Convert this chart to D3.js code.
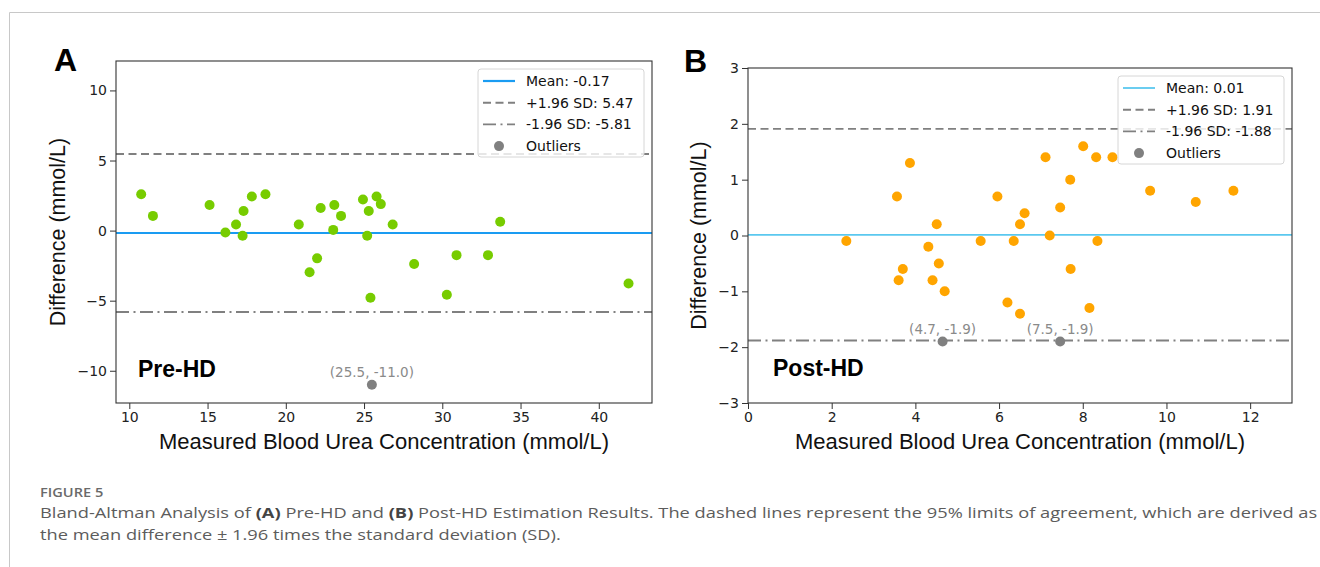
<!DOCTYPE html>
<html>
<head>
<meta charset="utf-8">
<script src="https://cdn.jsdelivr.net/npm/d3@7"></script>
<style>
  body { margin: 0; background: #fff; }
  svg { display: block; }
</style>
</head>
<body>
<script>
const width = 1320;
const height = 567;

// Panel A: pre-HD measurements vs difference
const preX = [10.76, 11.51, 15.13, 16.14, 16.82, 17.24, 17.30, 17.83, 18.70, 20.83,
              22.23, 23.10, 23.03, 23.53, 24.93, 25.80, 25.30, 26.07, 25.20, 26.83,
              33.70, 21.52, 22.00, 28.20, 30.91, 32.92, 25.41, 30.29, 41.90];
const preDiff = [2.59, 1.05, 1.82, -0.14, 0.44, -0.37, 1.40, 2.43, 2.59, 0.44,
                 1.61, 1.82, 0.05, 1.05, 2.22, 2.43, 1.40, 1.89, -0.37, 0.44,
                 0.63, -2.97, -1.98, -2.38, -1.75, -1.75, -4.79, -4.58, -3.77];
const preOutX = [25.5];
const preOutDiff = [-11.0];
const preOutLabels = ["(25.5, -11.0)"];
const preStats = [-0.17, 5.47, -5.81];   // mean, +1.96 SD, -1.96 SD

// Panel B: post-HD
const postX = [3.56, 3.87, 4.51, 5.96, 6.50, 6.61, 7.11, 7.21, 7.46, 7.70,
               8.01, 8.32, 8.71, 9.61, 10.70, 11.60, 2.35, 3.70, 3.60, 4.31,
               4.56, 4.41, 4.70, 5.56, 6.35, 6.20, 6.50, 7.71, 8.35, 8.16];
const postDiff = [0.70, 1.30, 0.20, 0.70, 0.20, 0.40, 1.40, 0.00, 0.50, 1.00,
                  1.60, 1.40, 1.40, 0.80, 0.60, 0.80, -0.10, -0.60, -0.80, -0.20,
                  -0.50, -0.80, -1.00, -0.10, -0.10, -1.20, -1.40, -0.60, -0.10, -1.30];
const postOutX = [4.65, 7.46];
const postOutDiff = [-1.9, -1.9];
const postOutLabels = ["(4.7, -1.9)", "(7.5, -1.9)"];
const postStats = [0.01, 1.91, -1.88];

const preTicksX = [10, 15, 20, 25, 30, 35, 40];
const preTicksY = [-10, -5, 0, 5, 10];
const postTicksX = [0, 2, 4, 6, 8, 10, 12];
const postTicksY = [-3, -2, -1, 0, 1, 2, 3];

const legendNames = ["Mean", "+1.96 SD", "-1.96 SD", "Outliers"];

const svg = d3.select("body").append("svg")
  .attr("width", width)
  .attr("height", height);

// page frame
svg.append("path")
  .attr("d", "M9.5," + height + "V12.5H" + width)
  .attr("fill", "none")
  .attr("stroke", "#c8c8c8");

const panels = [
  {letter: "A", tag: "Pre-HD", xs: preX, ys: preDiff, ox: preOutX, oy: preOutDiff, ol: preOutLabels,
   stats: preStats, xt: preTicksX, yt: preTicksY, xDomain: [9.15, 43.4], yDomain: [-12.3, 12.1],
   left: 116, right: 652, top: 61, bottom: 403, color: "#77cc00", meanColor: "#1a9cf2", meanWidth: 2.2,
   letterX: 54, letterY: 71, ylabX: 65, tagX: 138, tagY: 377},
  {letter: "B", tag: "Post-HD", xs: postX, ys: postDiff, ox: postOutX, oy: postOutDiff, ol: postOutLabels,
   stats: postStats, xt: postTicksX, yt: postTicksY, xDomain: [0, 13], yDomain: [-3, 3],
   left: 748, right: 1292, top: 68, bottom: 403, color: "#ffa500", meanColor: "#5bc8ef", meanWidth: 1.8,
   letterX: 684, letterY: 72, ylabX: 706, tagX: 773, tagY: 376}
];

const styles = [
  {dash: null},
  {dash: "8,4.5"},
  {dash: "13,4.5,2,4.5"}
];

panels.forEach(function(p, i) {
  const x = d3.scaleLinear().domain(p.xDomain).range([p.left, p.right]);
  const y = d3.scaleLinear().domain(p.yDomain).range([p.bottom, p.top]);
  const g = svg.append("g");

  g.append("clipPath").attr("id", "clip" + i)
    .append("rect")
    .attr("x", p.left).attr("y", p.top)
    .attr("width", p.right - p.left).attr("height", p.bottom - p.top);

  const plot = g.append("g").attr("clip-path", "url(#clip" + i + ")");

  // reference lines
  plot.selectAll("line.ref")
    .data(p.stats)
    .enter().append("line")
    .attr("class", "ref")
    .attr("x1", p.left).attr("x2", p.right)
    .attr("y1", d => y(d)).attr("y2", d => y(d))
    .attr("stroke", (d, k) => k === 0 ? p.meanColor : "#808080")
    .attr("stroke-width", (d, k) => k === 0 ? p.meanWidth : 1.9)
    .attr("stroke-dasharray", (d, k) => styles[k].dash);

  // points
  plot.selectAll("circle.pt")
    .data(p.xs)
    .enter().append("circle")
    .attr("class", "pt")
    .attr("cx", d => x(d))
    .attr("cy", (d, k) => y(p.ys[k]))
    .attr("r", 5)
    .attr("fill", p.color);

  plot.selectAll("circle.out")
    .data(p.ox)
    .enter().append("circle")
    .attr("class", "out")
    .attr("cx", d => x(d))
    .attr("cy", (d, k) => y(p.oy[k]))
    .attr("r", 5)
    .attr("fill", "#808080");

  g.selectAll("text.ann")
    .data(p.ox)
    .enter().append("text")
    .attr("class", "ann")
    .attr("x", d => x(d))
    .attr("y", (d, k) => y(p.oy[k]) - 8)
    .attr("text-anchor", "middle")
    .attr("font-family", "DejaVu Sans")
    .attr("font-size", 13.5)
    .attr("fill", "#8a8a8a")
    .text((d, k) => p.ol[k]);

  // axes
  const xAxis = g.append("g")
    .attr("transform", "translate(0," + p.bottom + ")")
    .call(d3.axisBottom(x).tickValues(p.xt).tickSize(6).tickPadding(3).tickFormat(d3.format("d")));
  const yAxis = g.append("g")
    .attr("transform", "translate(" + p.left + ",0)")
    .call(d3.axisLeft(y).tickValues(p.yt).tickSize(6).tickPadding(3).tickFormat(d3.format("d")));
  [xAxis, yAxis].forEach(function(a) {
    a.select(".domain").remove();
    a.selectAll("line").attr("stroke", "#333");
    a.selectAll("text")
      .attr("font-family", "DejaVu Sans")
      .attr("font-size", 14)
      .attr("fill", "#222");
  });

  g.append("rect")
    .attr("x", p.left).attr("y", p.top)
    .attr("width", p.right - p.left).attr("height", p.bottom - p.top)
    .attr("fill", "none")
    .attr("stroke", "#333")
    .attr("stroke-width", 1.1);

  // legend
  const lw = 166, lh = 88;
  const lx = p.right - 8 - lw, ly = p.top + 8;
  const leg = g.append("g").attr("transform", "translate(" + lx + "," + ly + ")");
  leg.append("rect")
    .attr("width", lw).attr("height", lh).attr("rx", 3)
    .attr("fill", "#fff").attr("fill-opacity", 0.8)
    .attr("stroke", "#d6d6d6");
  const labels = [
    legendNames[0] + ": " + p.stats[0].toFixed(2),
    legendNames[1] + ": " + p.stats[1].toFixed(2),
    legendNames[2] + ": " + p.stats[2].toFixed(2),
    legendNames[3]
  ];
  labels.forEach(function(t, k) {
    const cy = 12 + k * 21.7;
    if (k < 3) {
      leg.append("line")
        .attr("x1", 5).attr("x2", 37).attr("y1", cy).attr("y2", cy)
        .attr("stroke", k === 0 ? p.meanColor : "#808080")
        .attr("stroke-width", k === 0 ? p.meanWidth : 1.9)
        .attr("stroke-dasharray", styles[k].dash);
    } else {
      leg.append("circle").attr("cx", 21).attr("cy", cy).attr("r", 5).attr("fill", "#808080");
    }
    leg.append("text")
      .attr("x", 48).attr("y", cy + 5)
      .attr("font-family", "DejaVu Sans")
      .attr("font-size", 14)
      .attr("fill", "#111")
      .text(t);
  });

  // labels
  g.append("text")
    .attr("x", (p.left + p.right) / 2).attr("y", 449)
    .attr("text-anchor", "middle")
    .attr("font-family", "Liberation Sans")
    .attr("font-size", 22)
    .attr("fill", "#111")
    .text("Measured Blood Urea Concentration (mmol/L)");

  g.append("text")
    .attr("transform", "translate(" + p.ylabX + "," + ((p.top + p.bottom) / 2) + ") rotate(-90)")
    .attr("text-anchor", "middle")
    .attr("font-family", "Liberation Sans")
    .attr("font-size", 21.5)
    .attr("fill", "#111")
    .text("Difference (mmol/L)");

  g.append("text")
    .attr("x", p.letterX).attr("y", p.letterY)
    .attr("font-family", "Liberation Sans")
    .attr("font-weight", "bold")
    .attr("font-size", 32)
    .attr("fill", "#000")
    .text(p.letter);

  g.append("text")
    .attr("x", p.tagX).attr("y", p.tagY)
    .attr("font-family", "Liberation Sans")
    .attr("font-weight", "bold")
    .attr("font-size", 23)
    .attr("fill", "#000")
    .text(p.tag);
});

// caption
const cap = svg.append("g");
cap.append("text")
  .attr("x", 0).attr("y", 497)
  .attr("font-family", "Open Sans")
  .attr("font-weight", 600)
  .attr("font-size", 12)
  .attr("fill", "#6a6a6a")
  .text("FIGURE 5");

const line1 = cap.append("text")
  .attr("x", 0).attr("y", 518)
  .attr("font-family", "Open Sans")
  .attr("font-size", 15)
  .attr("fill", "#5c5c5c");
[["Bland-Altman Analysis of ", false], ["(A)", true], [" Pre-HD and ", false], ["(B)", true],
 [" Post-HD Estimation Results. The dashed lines represent the 95% limits of agreement, which are derived as", false]]
  .forEach(function(s) {
    line1.append("tspan").attr("font-weight", s[1] ? 700 : 400).attr("fill", s[1] ? "#444" : null).text(s[0]);
  });

cap.append("text")
  .attr("x", 0).attr("y", 540)
  .attr("font-family", "Open Sans")
  .attr("font-size", 15)
  .attr("fill", "#5c5c5c")
  .text("the mean difference \u00b1 1.96 times the standard deviation (SD).");

const natural = line1.node().getComputedTextLength();
const k = (1318 - 40) / natural;
cap.attr("transform", "translate(40,0) scale(" + k + ",1)");
</script>
</body>
</html>
